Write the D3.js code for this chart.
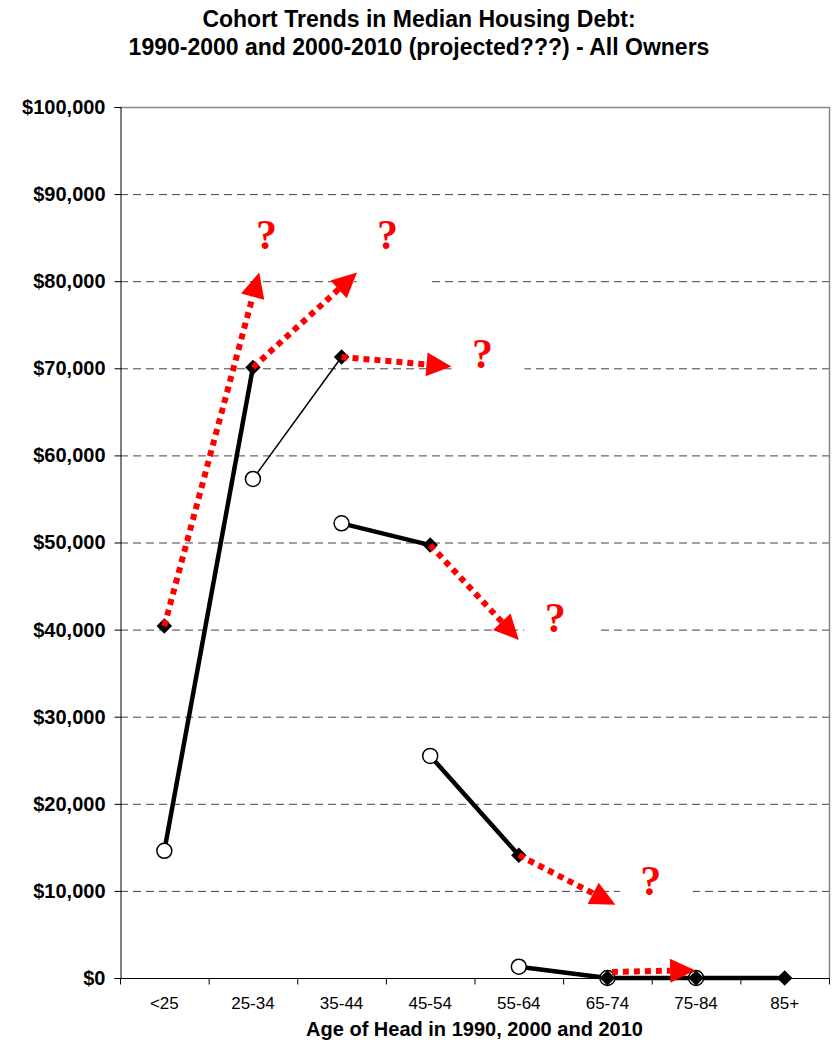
<!DOCTYPE html>
<html>
<head>
<meta charset="utf-8">
<script src="https://cdn.jsdelivr.net/npm/d3@7"></script>
<style>
  body { margin: 0; background: #fff; }
  text { font-family: "Liberation Sans", Arial, sans-serif; }
</style>
</head>
<body>
<div id="chart"></div>
<script>
let width = 838,
height = 1044;

// age groups on the x axis
let ages = ["<25", "25-34", "35-44", "45-54", "55-64", "65-74", "75-84", "85+"];
let yTickValues = [0, 10000, 20000, 30000, 40000, 50000, 60000, 70000, 80000, 90000, 100000];

// median housing debt, by age of head
let debt1990 = [14600, 57300, 52200, 25500, 1300, 0, 0, null];
let debt2000 = [40400, 70100, 71300, 49700, 14100, 0, 0, 0];

// projected 2000 -> 2010 arrows: [age index, value]
let arrowFrom = [[0, 40400], [1, 70100], [2, 71300], [3, 49700], [4, 14100], [5.05, 700]];
let arrowTo = [[1.07, 81000], [2.175, 81000], [3.24, 70200], [4.0, 38800], [5.09, 8400], [5.99, 900]];

// question marks: [age index, value at baseline, has white box]
let qMarks = [[1.153, 83700, false], [2.519, 83700, true], [3.59, 70000, true], [4.41, 39700, true], [5.49, 9500, true]];

let svg = d3.select("#chart")
.append("svg")
.attr("width", width)
.attr("height", height);

let plot = {left: 120, right: 829, top: 107, bottom: 978};

let x = d3.scalePoint()
.domain(ages)
.range([plot.left, plot.right])
.padding(0.5);

// fractional age index -> pixel
let xi = d3.scaleLinear()
.domain([0, ages.length - 1])
.range([x(ages[0]), x(ages[ages.length - 1])]);

let y = d3.scaleLinear()
.domain([0, 100000])
.range([plot.bottom, plot.top]);

let fmt = d => "$" + d3.format(",")(d);

// title
svg.append("text")
.attr("x", width / 2)
.attr("y", 27)
.attr("text-anchor", "middle")
.style("font-weight", "bold")
.style("font-size", "23px")
.text("Cohort Trends in Median Housing Debt:");
svg.append("text")
.attr("x", width / 2)
.attr("y", 55)
.attr("text-anchor", "middle")
.style("font-weight", "bold")
.style("font-size", "23px")
.text("1990-2000 and 2000-2010 (projected???) - All Owners");

// gridlines
svg.append("g")
.selectAll("line")
.data(yTickValues.filter(d => d > 0 && d < 100000))
.enter().append("line")
.attr("x1", plot.left)
.attr("x2", plot.right)
.attr("y1", d => y(d) + 0.5)
.attr("y2", d => y(d) + 0.5)
.attr("stroke", "#444")
.attr("stroke-dasharray", "8 5");

// plot border top / right
svg.append("path")
.attr("d", `M${plot.left},${y(100000) + 0.5}H${plot.right + 0.5}V${plot.bottom}`)
.attr("fill", "none")
.attr("stroke", "#888")
.attr("stroke-width", 1.5);

// y axis
let yAxis = svg.append("g")
.attr("transform", `translate(${plot.left + 0.5},0)`)
.call(d3.axisLeft(y).tickValues(yTickValues).tickFormat(fmt).tickSize(6).tickPadding(9));
yAxis.select(".domain").attr("stroke", "#000");
yAxis.selectAll("text")
.style("font-size", "20px")
.style("font-weight", "bold")
.attr("fill", "#000");

// x axis, ticks between categories
let bounds = d3.range(ages.length + 1).map(i => xi(i - 0.5));
let xAxis = svg.append("g")
.attr("transform", `translate(0,${plot.bottom + 0.5})`);
xAxis.append("line")
.attr("x1", plot.left)
.attr("x2", plot.right + 1)
.attr("stroke", "#000");
xAxis.selectAll(".tk")
.data(bounds)
.enter().append("line")
.attr("x1", d => d + 0.5)
.attr("x2", d => d + 0.5)
.attr("y1", 0)
.attr("y2", 6)
.attr("stroke", "#000");
xAxis.selectAll(".lbl")
.data(ages)
.enter().append("text")
.attr("x", d => x(d))
.attr("y", 30)
.attr("text-anchor", "middle")
.style("font-size", "17px")
.text(d => d);

svg.append("text")
.attr("x", (plot.left + plot.right) / 2)
.attr("y", 1036)
.attr("text-anchor", "middle")
.style("font-size", "20px")
.style("font-weight", "bold")
.text("Age of Head in 1990, 2000 and 2010");

// white boxes behind the question marks
svg.append("g")
.selectAll("rect")
.data(qMarks.filter(d => d[2]))
.enter().append("rect")
.attr("x", d => xi(d[0]) - 31)
.attr("y", d => y(d[1]) - 40)
.attr("width", 73)
.attr("height", 74)
.attr("fill", "#fff");

// cohort lines 1990 -> 2000
let cohorts = debt1990.slice(0, -1).map((v, i) => ({i: i, v0: v, v1: debt2000[i + 1]}));
svg.append("g")
.selectAll("line")
.data(cohorts)
.enter().append("line")
.attr("x1", d => x(ages[d.i]))
.attr("y1", d => y(d.v0))
.attr("x2", d => x(ages[d.i + 1]))
.attr("y2", d => y(d.v1))
.attr("stroke", "#000")
.attr("stroke-width", d => d.i == 1 ? 1.5 : 4.5);

svg.append("g")
.selectAll("circle")
.data(debt1990.map((v, i) => ({i: i, v: v})).filter(d => d.v !== null))
.enter().append("circle")
.attr("cx", d => x(ages[d.i]))
.attr("cy", d => y(d.v))
.attr("r", 7.5)
.attr("fill", "#fff")
.attr("stroke", "#000")
.attr("stroke-width", 1.5);

svg.append("g")
.selectAll("path")
.data(debt2000.map((v, i) => ({i: i, v: v})))
.enter().append("path")
.attr("d", d3.symbol(d3.symbolSquare, 120))
.attr("transform", d => `translate(${x(ages[d.i])},${y(d.v)}) rotate(45)`)
.attr("fill", "#000");

// red projection arrows
let arrows = arrowFrom.map((a, k) => {
    let x0 = xi(a[0]), y0 = y(a[1]);
    let x1 = xi(arrowTo[k][0]), y1 = y(arrowTo[k][1]);
    let dx = x1 - x0, dy = y1 - y0, len = Math.sqrt(dx * dx + dy * dy);
    let ux = dx / len, uy = dy / len;
    let head = 25, half = 12;
    let bx = x1 - ux * head, by = y1 - uy * head;
    return {
        x0: x0, y0: y0, bx: bx, by: by,
        tri: [[x1, y1], [bx - uy * half, by + ux * half], [bx + uy * half, by - ux * half]]
    };
});

let red = svg.append("g");
red.selectAll("line")
.data(arrows)
.enter().append("line")
.attr("x1", d => d.x0)
.attr("y1", d => d.y0)
.attr("x2", d => d.bx)
.attr("y2", d => d.by)
.attr("stroke", "#ff0000")
.attr("stroke-width", 6)
.attr("stroke-dasharray", "6 5");
red.selectAll("path")
.data(arrows)
.enter().append("path")
.attr("d", d => d3.line()(d.tri) + "Z")
.attr("fill", "#ff0000");

svg.append("g")
.selectAll("text")
.data(qMarks)
.enter().append("text")
.attr("x", d => xi(d[0]))
.attr("y", d => y(d[1]))
.attr("text-anchor", "middle")
.style("font-family", "'Liberation Serif', 'Times New Roman', serif")
.style("font-weight", "bold")
.style("font-size", "42px")
.attr("fill", "#ff0000")
.text("?");
</script>
</body>
</html>
